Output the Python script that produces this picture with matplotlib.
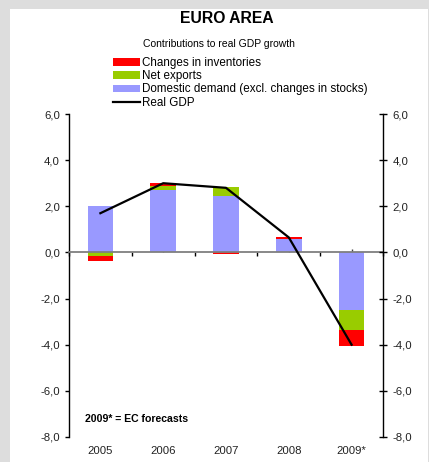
import matplotlib
matplotlib.use("Agg")
import matplotlib.pyplot as plt
import matplotlib.transforms as mtransforms
from matplotlib.patches import Patch, Rectangle
from matplotlib.lines import Line2D
import numpy as np

plt.rcParams['font.family'] = ['Liberation Sans', 'DejaVu Sans']

years = ["2005", "2006", "2007", "2008", "2009*"]
domestic_demand = [2.02, 2.70, 2.45, 0.57, -2.50]
net_exports = [-0.17, 0.20, 0.38, 0.00, -0.85]
inventories = [-0.18, 0.10, -0.08, 0.09, -0.70]
real_gdp = [1.7, 3.0, 2.8, 0.65, -4.0]

yticks = [-8, -6, -4, -2, 0, 2, 4, 6]

C_DOM = "#9999ff"
C_NET = "#99cc00"
C_INV = "#ff0000"

W, H = 429, 462
fig = plt.figure(figsize=(W / 100, H / 100), dpi=100)
fig.patch.set_facecolor("#dddddd")
fig.add_artist(Rectangle((10 / W, 0), 1 - 10 / W - 1 / W, 1 - 9 / H,
                         transform=fig.transFigure, facecolor="white",
                         edgecolor="none", zorder=-10))

ax = fig.add_axes([69 / W, 1 - 437 / H, (383 - 69) / W, (437 - 114) / H])
ax.set_facecolor("none")
x = np.arange(len(years))
width = 0.41

pos_bottom = np.zeros(len(years))
neg_bottom = np.zeros(len(years))
for vals, col in ((domestic_demand, C_DOM), (net_exports, C_NET), (inventories, C_INV)):
    vals = np.array(vals)
    bottoms = np.where(vals >= 0, pos_bottom, neg_bottom)
    ax.bar(x, vals, width=width, bottom=bottoms, color=col, edgecolor="none", zorder=2)
    pos_bottom += np.where(vals >= 0, vals, 0)
    neg_bottom += np.where(vals < 0, vals, 0)

ax.plot(x, real_gdp, color="black", lw=1.6, zorder=4)

ax.set_xlim(-0.5, len(years) - 0.5)
ax.set_ylim(-8, 6)

# zero line acting as category axis
ax.spines['bottom'].set_position(('data', 0))
ax.spines['bottom'].set_color("#7f7f7f")
ax.spines['bottom'].set_linewidth(1.3)
ax.spines['bottom'].set_zorder(3)
ax.spines['top'].set_visible(False)
ax.spines['right'].set_visible(False)
ax.spines['left'].set_linewidth(1.0)
ax.set_xticks(np.arange(len(years) + 1) - 0.5)
ax.set_xticks(x, minor=True)
ax.tick_params(axis='x', which='major', direction='out', length=3, width=1.0,
               color="black", labelbottom=False)
ax.tick_params(axis='x', which='minor', direction='in', length=2, width=1.0,
               color="#444444", labelbottom=False)

fmt = lambda v: f"{v:.1f}".replace(".", ",")
ax.set_yticks(yticks)
ax.set_yticklabels([fmt(v) for v in yticks])
ax.tick_params(axis='y', direction='out', length=3, width=1.0, pad=3.5,
               labelsize=8.2, labelcolor="#222222")

ax2 = ax.twinx()
ax2.set_ylim(-8, 6)
ax2.set_yticks(yticks)
ax2.set_yticklabels([fmt(v) for v in yticks])
for s in ("top", "left", "bottom"):
    ax2.spines[s].set_visible(False)
ax2.spines['right'].set_linewidth(1.0)
ax2.tick_params(axis='y', direction='inout', length=6, width=1.0, pad=4,
                labelsize=8.2, labelcolor="#222222")

trans = mtransforms.blended_transform_factory(ax.transData, fig.transFigure)
for i, lab in enumerate(years):
    ax.text(x[i], 1 - 451 / H, lab, transform=trans, ha="center", va="center",
            fontsize=8.2, color="#222222")

fig.text(85 / W, 1 - 419 / H, "2009* = EC forecasts", ha="left", va="center",
         fontsize=7.6, fontweight="bold")

fig.text(227 / W, 1 - 18.5 / H, "EURO AREA", ha="center", va="center",
         fontsize=11.3, fontweight="bold")
fig.text(219 / W, 1 - 44 / H, "Contributions to real GDP growth", ha="center",
         va="center", fontsize=7.5)

handles = [Patch(facecolor=C_INV, edgecolor="none"),
           Patch(facecolor=C_NET, edgecolor="none"),
           Patch(facecolor=C_DOM, edgecolor="none"),
           Line2D([], [], color="black", lw=1.6)]
labels = ["Changes in inventories", "Net exports",
          "Domestic demand (excl. changes in stocks)", "Real GDP"]
fig.legend(handles, labels, loc="upper left", bbox_to_anchor=(113 / W, 1 - 57 / H),
           frameon=False, fontsize=8.4, handlelength=2.3, handleheight=0.6,
           handletextpad=0.2, labelspacing=0.1, borderpad=0, borderaxespad=0)

fig.savefig("out.png", dpi=100, facecolor=fig.get_facecolor())
